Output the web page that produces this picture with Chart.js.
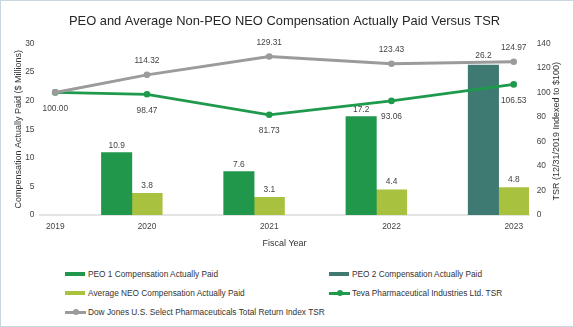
<!DOCTYPE html>
<html lang="en">
<head>
<meta charset="utf-8">
<title>PEO and Average Non-PEO NEO Compensation Actually Paid Versus TSR</title>
<script src="https://cdn.jsdelivr.net/npm/chart.js@4.4.1/dist/chart.umd.min.js"></script>
<style>
  html, body { margin: 0; padding: 0; background: #fff; }
  #card { position: relative; width: 574px; height: 327px; background: #fff; overflow: hidden;
          font-family: "Liberation Sans", Arial, sans-serif; }
  #card .frame { position: absolute; inset: 0; border: 1px solid #c8d7dd; pointer-events: none; }
  #chartBox { position: absolute; left: 0; top: 0; width: 574px; height: 252px; }
  #legend { position: absolute; left: 65px; top: 264.5px; display: grid;
            grid-template-columns: 264px 230px; grid-auto-rows: 19px; align-items: center;
            font-size: 8.3px; color: #333; }
  .lg-item { display: flex; align-items: center; white-space: nowrap; }
  .lg-swatch { position: relative; width: 21px; height: 7px; margin-right: 2px; flex: none; }
  .lg-swatch.bar::before { content: ""; position: absolute; left: 0; top: 1.5px; width: 20px; height: 4px; background: var(--c); }
  .lg-swatch.line::before { content: ""; position: absolute; left: 0; top: 2px; width: 21px; height: 3px; background: var(--c); }
  .lg-swatch.line::after { content: ""; position: absolute; left: 7.5px; top: 0.5px; width: 6px; height: 6px; border-radius: 50%; background: var(--c); }
</style>
</head>
<body>
<div id="card">
  <div id="chartBox"><canvas id="capChart"></canvas></div>
  <div id="legend"></div>
  <div class="frame"></div>
</div>
<script>
// años fiscales y valores (CAP en $ millones, TSR indexado a $100)
const YEARS = [2019, 2020, 2021, 2022, 2023];
const PEO1_CAP = [null, 10.9, 7.6, 17.2, null];
const PEO2_CAP = [null, null, null, null, 26.2];
const NEO_CAP = [null, 3.8, 3.1, 4.4, 4.8];
const TEVA_TSR = [100.00, 98.47, 81.73, 93.06, 106.53];
const DJ_TSR = [100.00, 114.32, 129.31, 123.43, 124.97];
const COMP_TICKS = [0, 5, 10, 15, 20, 25, 30];
const TSR_TICKS = [0, 20, 40, 60, 80, 100, 120, 140];

const FONT = '"Liberation Sans", Arial, sans-serif';
Chart.defaults.font.family = FONT;
Chart.defaults.color = '#444';

// eje lineal que deja el primer año (sin barras) pegado al borde izquierdo
class EdgeLinearScale extends Chart.LinearScale {
  static id = 'edgeLinear';
  static defaults = Chart.LinearScale.defaults;
  getPixelForValue(value) {
    const floor = this.options.floor;
    return super.getPixelForValue(floor != null && value < floor ? floor : value);
  }
}
Chart.register(EdgeLinearScale);

const fixedTicks = list => scale => { scale.ticks = list.map(value => ({ value })); };

// etiquetas de valor encima/debajo de cada marca
const valueLabels = {
  id: 'valueLabels',
  afterDatasetsDraw(chart) {
    const ctx = chart.ctx;
    ctx.save();
    ctx.font = '8.4px ' + FONT;
    ctx.fillStyle = '#444';
    ctx.textAlign = 'center';
    ctx.textBaseline = 'middle';
    chart.data.datasets.forEach((ds, i) => {
      const meta = chart.getDatasetMeta(i);
      const cfg = ds.valueLabel;
      if (!cfg || meta.hidden) return;
      meta.data.forEach((el, j) => {
        const v = ds.data[j];
        if (v == null || (cfg.skip || []).includes(j)) return;
        ctx.fillText(v.toFixed(cfg.digits), el.x, el.y + cfg.dy);
      });
    });
    ctx.restore();
  }
};

// título del eje derecho, leído de abajo hacia arriba
const tsrAxisTitle = {
  id: 'tsrAxisTitle',
  afterDraw(chart) {
    const s = chart.scales.y1;
    const ctx = chart.ctx;
    ctx.save();
    ctx.translate(s.right - 17.3, (s.top + s.bottom) / 2 + 2);
    ctx.rotate(-Math.PI / 2);
    ctx.font = '9px ' + FONT;
    ctx.fillStyle = '#333';
    ctx.textAlign = 'center';
    ctx.textBaseline = 'middle';
    ctx.fillText('TSR (12/31/2019 Indexed to $100)', 0, 0);
    ctx.restore();
  }
};

const chart = new Chart(document.getElementById('capChart'), {
  type: 'bar',
  data: {
    labels: YEARS,
    datasets: [
      { label: 'PEO 1 Compensation Actually Paid', data: PEO1_CAP, backgroundColor: '#21974b',
        xAxisID: 'x', yAxisID: 'y', stack: 'peo', barThickness: 30.4, order: 2,
        valueLabel: { digits: 1, dy: -7 } },
      { label: 'PEO 2 Compensation Actually Paid', data: PEO2_CAP, backgroundColor: '#3e7a72',
        xAxisID: 'x', yAxisID: 'y', stack: 'peo', barThickness: 30.4, order: 2,
        valueLabel: { digits: 1, dy: -9 } },
      { label: 'Average NEO Compensation Actually Paid', data: NEO_CAP, backgroundColor: '#a8c23f',
        xAxisID: 'x', yAxisID: 'y', stack: 'neo', barThickness: 30.4, order: 2,
        valueLabel: { digits: 1, dy: -8 } },
      { type: 'line', label: 'Teva Pharmaceutical Industries Ltd. TSR', data: TEVA_TSR,
        xAxisID: 'xLine', yAxisID: 'y1', borderColor: '#1e9a4c', backgroundColor: '#1e9a4c',
        borderWidth: 2.8, pointRadius: 3.3, pointBorderWidth: 0, tension: 0, order: 1,
        valueLabel: { digits: 2, dy: 16 } },
      { type: 'line', label: 'Dow Jones U.S. Select Pharmaceuticals Total Return Index TSR', data: DJ_TSR,
        xAxisID: 'xLine', yAxisID: 'y1', borderColor: '#9b9b9c', backgroundColor: '#9b9b9c',
        borderWidth: 3, pointRadius: 3.3, pointBorderWidth: 0, tension: 0, order: 0,
        valueLabel: { digits: 2, dy: -14, skip: [0] } }
    ]
  },
  options: {
    responsive: true,
    maintainAspectRatio: false,
    animation: false,
    layout: { padding: 0 },
    plugins: {
      legend: { display: false },
      tooltip: { enabled: false },
      title: {
        display: true, fullSize: false,
        text: 'PEO and Average Non-PEO NEO Compensation Actually Paid Versus TSR',
        color: '#262626', font: { size: 12.9, weight: 'normal' },
        padding: { top: 13.4, bottom: 14.5 }
      }
    },
    scales: {
      x: {
        type: 'linear', position: 'bottom', display: false, offset: false,
        min: 2019, max: 2023,
        afterBuildTicks: fixedTicks(YEARS)
      },
      xLine: {
        type: 'edgeLinear', position: 'bottom', offset: false,
        min: 2019.125, max: 2023.125, floor: 2019.25,
        afterBuildTicks: fixedTicks(YEARS),
        grid: { display: false, drawTicks: false },
        border: { display: true, color: '#e4e4e4', width: 2 },
        ticks: { color: '#444', font: { size: 8.4 }, padding: 7, maxRotation: 0, autoSkip: false,
                 callback: v => String(v) },
        title: { display: true, text: 'Fiscal Year', color: '#333', font: { size: 9 },
                 padding: { top: 0, bottom: 3.2 } },
        afterFit: s => { s.height = 37; }
      },
      y: {
        position: 'left', min: 0, max: 30,
        afterBuildTicks: fixedTicks(COMP_TICKS),
        grid: { display: false, drawTicks: false },
        border: { display: false },
        ticks: { color: '#444', font: { size: 8.4 }, padding: 5.5 },
        title: { display: true, text: 'Compensation Actually Paid ($ Millions)', color: '#333',
                 font: { size: 9 }, padding: { top: 12.9, bottom: 0 } },
        afterFit: s => { s.width = 40; }
      },
      y1: {
        position: 'right', min: 0, max: 140,
        afterBuildTicks: fixedTicks(TSR_TICKS),
        grid: { display: false, drawTicks: false },
        border: { display: false },
        ticks: { color: '#444', font: { size: 8.4 }, padding: 7.7 },
        afterFit: s => { s.width = 45; }
      }
    }
  },
  plugins: [valueLabels, tsrAxisTitle]
});

// leyenda en dos columnas
const legendEl = document.getElementById('legend');
chart.data.datasets.forEach(ds => {
  const item = document.createElement('div');
  item.className = 'lg-item';
  const sw = document.createElement('span');
  const isLine = ds.type === 'line';
  sw.className = 'lg-swatch ' + (isLine ? 'line' : 'bar');
  sw.style.setProperty('--c', isLine ? ds.borderColor : ds.backgroundColor);
  const txt = document.createElement('span');
  txt.textContent = ds.label;
  item.append(sw, txt);
  legendEl.appendChild(item);
});
</script>
</body>
</html>
